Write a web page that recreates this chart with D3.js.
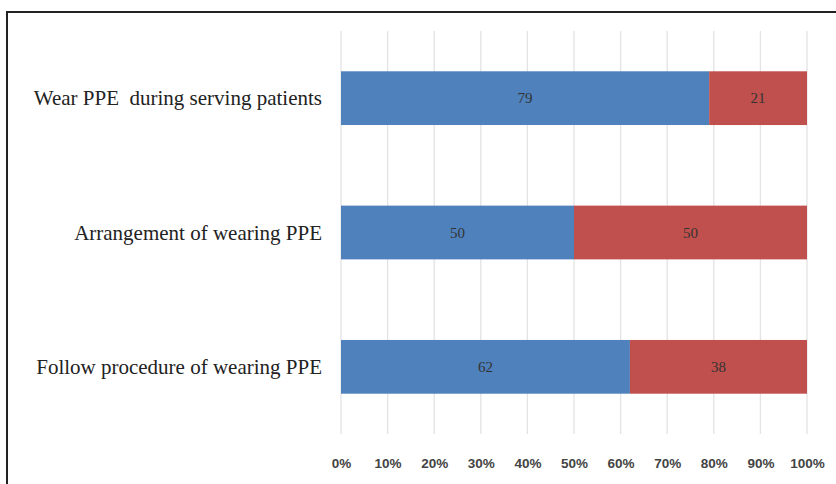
<!DOCTYPE html>
<html>
<head>
<meta charset="utf-8">
<script src="https://cdn.jsdelivr.net/npm/d3@7"></script>
<style>
  html, body { margin: 0; padding: 0; background: #fff; }
  svg { display: block; }
</style>
</head>
<body>
<script>
// Survey items, top to bottom
const categories = [
  "Wear PPE  during serving patients",
  "Arrangement of wearing PPE",
  "Follow procedure of wearing PPE"
];
// Percentage split for each item
const yesValues = [79, 50, 62];
const noValues = [21, 50, 38];
const tickValues = [0, 10, 20, 30, 40, 50, 60, 70, 80, 90, 100];

const W = 836, H = 484;
const svg = d3.select("body").append("svg").attr("width", W).attr("height", H);

// Outer frame
svg.append("rect")
  .attr("x", 7).attr("y", 12)
  .attr("width", W + 10).attr("height", H + 10)
  .attr("fill", "#fff").attr("stroke", "#222").attr("stroke-width", 2);

const plot = { left: 341, right: 807, top: 31, bottom: 434 };

const x = d3.scaleLinear().domain([0, 100]).range([plot.left, plot.right]);
const y = d3.scaleBand().domain(categories).range([plot.top, plot.bottom]).paddingInner(0.6).paddingOuter(0.3);

// Vertical gridlines
svg.append("g").selectAll("line").data(tickValues).join("line")
  .attr("x1", d => x(d)).attr("x2", d => x(d))
  .attr("y1", plot.top).attr("y2", plot.bottom)
  .attr("stroke", "#e3e3e3").attr("stroke-width", 1.3);

// Stacked bars
const rows = categories.map((c, i) => ({ c, yes: yesValues[i], no: noValues[i] }));
const g = svg.append("g");
g.selectAll("rect.yes").data(rows).join("rect").attr("class", "yes")
  .attr("x", x(0)).attr("y", d => y(d.c))
  .attr("width", d => x(d.yes) - x(0)).attr("height", y.bandwidth())
  .attr("fill", "#4f81bd");
g.selectAll("rect.no").data(rows).join("rect").attr("class", "no")
  .attr("x", d => x(d.yes)).attr("y", d => y(d.c))
  .attr("width", d => x(d.yes + d.no) - x(d.yes)).attr("height", y.bandwidth())
  .attr("fill", "#c0504d");

// Segment value labels
const lab = svg.append("g").attr("font-family", "Liberation Serif, serif").attr("font-size", 15)
  .attr("text-anchor", "middle").attr("fill", "#333");
lab.selectAll("text.yes").data(rows).join("text")
  .attr("x", d => x(d.yes / 2)).attr("y", d => y(d.c) + y.bandwidth() / 2 + 5)
  .text(d => d.yes);
lab.selectAll("text.no").data(rows).join("text")
  .attr("x", d => x(d.yes + d.no / 2)).attr("y", d => y(d.c) + y.bandwidth() / 2 + 5)
  .text(d => d.no);

// Category labels
svg.append("g").selectAll("text").data(categories).join("text")
  .attr("x", 322).attr("y", d => y(d) + y.bandwidth() / 2 + 7)
  .attr("text-anchor", "end")
  .attr("font-family", "Liberation Serif, serif").attr("font-size", 21)
  .attr("fill", "#222")
  .style("white-space", "pre")
  .text(d => d);

// X axis tick labels
const axis = d3.axisBottom(x).tickValues(tickValues).tickFormat(d => d + "%").tickSize(0).tickPadding(0);
const ax = svg.append("g").attr("transform", `translate(0, 458)`).call(axis);
ax.select(".domain").remove();
ax.selectAll("text").attr("font-family", "Liberation Sans, sans-serif").attr("font-size", 13.5)
  .attr("font-weight", "bold").attr("fill", "#444");
</script>
</body>
</html>
